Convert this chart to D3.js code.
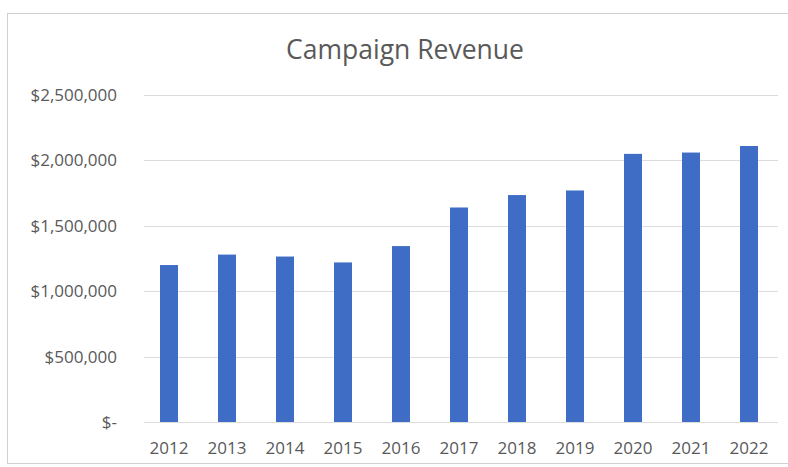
<!DOCTYPE html>
<html>
<head>
<meta charset="utf-8">
<script src="https://cdn.jsdelivr.net/npm/d3@7"></script>
<style>
  html, body { margin: 0; padding: 0; background: #ffffff; }
  svg { display: block; }
  text { font-family: "Open Sans", "Noto Sans", sans-serif; fill: #595959; }
</style>
</head>
<body>
<svg id="chart" width="788" height="467"></svg>
<script>
// Campaign revenue by year
const years = ["2012", "2013", "2014", "2015", "2016", "2017", "2018", "2019", "2020", "2021", "2022"];
const revenue = [1200000, 1280000, 1265000, 1220000, 1345000, 1640000, 1735000, 1770000, 2050000, 2060000, 2110000];
const yTicks = [0, 500000, 1000000, 1500000, 2000000, 2500000];
const chartTitle = "Campaign Revenue";

const width = 788, height = 467;
const svg = d3.select("#chart");

// chart frame
svg.append("rect")
  .attr("x", 7.5).attr("y", 13.5)
  .attr("width", 800).attr("height", 450)
  .attr("fill", "#ffffff")
  .attr("stroke", "#d0d0d0")
  .attr("stroke-width", 1);

const plot = { left: 140, right: 778, top: 95, bottom: 422 };

const x = d3.scaleBand()
  .domain(years)
  .range([plot.left, plot.right])
  .paddingInner(0.69)
  .paddingOuter(0.345);

const y = d3.scaleLinear()
  .domain([0, 2500000])
  .range([plot.bottom, plot.top]);

const money = v => v === 0 ? "$-" : "$" + d3.format(",")(v);

// horizontal gridlines
svg.append("g")
  .selectAll("line")
  .data(yTicks)
  .join("line")
  .attr("x1", 144).attr("x2", plot.right)
  .attr("y1", d => Math.round(y(d)) + 0.5)
  .attr("y2", d => Math.round(y(d)) + 0.5)
  .attr("stroke", "#dcdcdc")
  .attr("stroke-width", 1);

// y axis labels
const yAxis = d3.axisLeft(y).tickValues(yTicks).tickFormat(money).tickSize(0).tickPadding(0);
const gy = svg.append("g")
  .attr("transform", `translate(117,0)`)
  .call(yAxis);
gy.select(".domain").remove();
gy.selectAll("text")
  .style("font-family", "'Open Sans', 'Noto Sans', sans-serif")
  .style("font-size", "17px")
  .attr("fill", "#595959");

// bars
svg.append("g")
  .selectAll("rect")
  .data(years.map((yr, i) => ({ yr, v: revenue[i] })))
  .join("rect")
  .attr("x", d => x(d.yr))
  .attr("width", x.bandwidth())
  .attr("y", d => y(d.v))
  .attr("height", d => y(0) - y(d.v))
  .attr("fill", "#3f6dc6");

// x axis labels
const xAxis = d3.axisBottom(x).tickSize(0).tickPadding(0);
const gx = svg.append("g")
  .attr("transform", `translate(0,${plot.bottom + 20})`)
  .call(xAxis);
gx.select(".domain").remove();
gx.selectAll("text")
  .style("font-family", "'Open Sans', 'Noto Sans', sans-serif")
  .style("font-size", "17px")
  .attr("fill", "#595959");

// title
svg.append("text")
  .attr("x", 405)
  .attr("y", 59)
  .attr("text-anchor", "middle")
  .style("font-size", "26.5px")
  .text(chartTitle);
</script>
</body>
</html>
